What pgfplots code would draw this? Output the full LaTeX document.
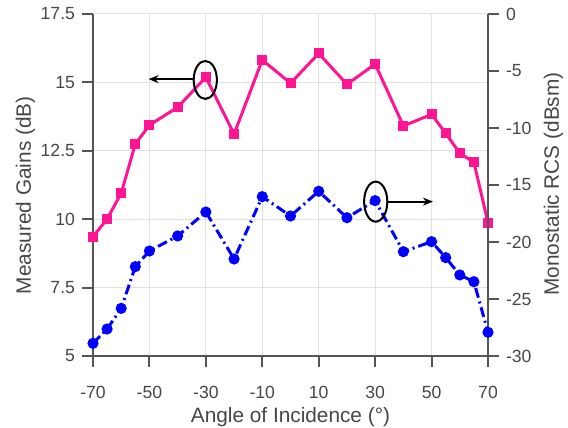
\documentclass[border=0pt]{standalone}
\usepackage{pgfplots}
\pgfplotsset{compat=1.18}
\usetikzlibrary{arrows.meta}
\usepackage{fontspec}
\setmainfont{Liberation Sans}
\definecolor{mypink}{RGB}{255,20,147}
\definecolor{txtgray}{RGB}{70,70,70}
\definecolor{axgray}{RGB}{85,85,85}
\definecolor{gridgray}{RGB}{225,225,225}
\begin{document}
\begin{tikzpicture}
\pgfplotsset{
 common/.style={scale only axis, width=197.5pt, height=171pt, xmin=-70, xmax=70, clip=false,
 tick align=outside, major tick length=5.5pt,
 every tick/.style={axgray, line width=1pt}, axis line style={axgray, line width=1pt},
 tick label style={font=\fontsize{8.8}{10}\selectfont, text=txtgray},
 label style={font=\fontsize{10.4}{12}\selectfont, text=txtgray},
 /pgf/number format/assume math mode=true,
 }
}
\begin{axis}[common, name=ax, ymin=5, ymax=17.5,
 xtick={-70,-50,...,70}, ytick={5,7.5,10,12.5,15,17.5},
 axis x line*=bottom, axis y line*=left,
 grid=major, grid style={gridgray, line width=0.5pt},
 xticklabel style={yshift=-6pt},
 xlabel={Angle of Incidence (°)}, ylabel={Measured Gains (dB)},
 xlabel style={at={(axis description cs:0.5,-0.193)}, anchor=base},
 ylabel style={at={(axis description cs:-0.171,0.47)}, anchor=center}]
\addplot[mypink, line width=1.5pt, mark=square*, mark size=1.75pt, mark options={solid}] coordinates {
(-70,9.36) (-65,10.01) (-60,10.95) (-55,12.75) (-50,13.44) (-40,14.09) (-30,15.19)
(-20,13.11) (-10,15.82) (0,14.97) (10,16.06) (20,14.93) (30,15.67) (40,13.41)
(50,13.83) (55,13.14) (60,12.41) (65,12.08) (70,9.87)};
\draw[black, line width=1pt] (axis cs:-30.2,15.09) ellipse [x radius=5.8pt, y radius=9.5pt];
\draw[black, line width=1pt, -{Stealth[length=5pt,width=4pt]}] (axis cs:-34.2,15.12) -- (axis cs:-50.3,15.12);
\end{axis}
\begin{axis}[common, ymin=-30, ymax=0, ytick={-30,-25,...,0},
 axis y line*=right, axis x line=none,
 ylabel={Monostatic RCS (dBsm)},
 ylabel style={at={(axis description cs:1.166,0.503)}, anchor=center}]
\addplot[blue, line width=1.5pt, dash pattern=on 5pt off 2pt on 1pt off 2pt, mark=*, mark size=2pt, mark options={solid}] coordinates {
(-70,-28.89) (-65,-27.63) (-60,-25.82) (-55,-22.16) (-50,-20.79) (-40,-19.47) (-30,-17.37)
(-20,-21.49) (-10,-16.02) (0,-17.72) (10,-15.55) (20,-17.87) (30,-16.37) (40,-20.85)
(50,-19.97) (55,-21.37) (60,-22.89) (65,-23.48) (70,-27.92)};
\draw[black, line width=1pt] (axis cs:30.2,-16.46) ellipse [x radius=5.8pt, y radius=10pt];
\draw[black, line width=1pt, -{Stealth[length=5pt,width=4pt]}] (axis cs:34.3,-16.46) -- (axis cs:50.5,-16.46);
\end{axis}
\pgfresetboundingbox
\path ([shift={(-46.5pt,-35.5pt)}]ax.south west) rectangle ([shift={(40pt,7pt)}]ax.north east);
\end{tikzpicture}
\end{document}
